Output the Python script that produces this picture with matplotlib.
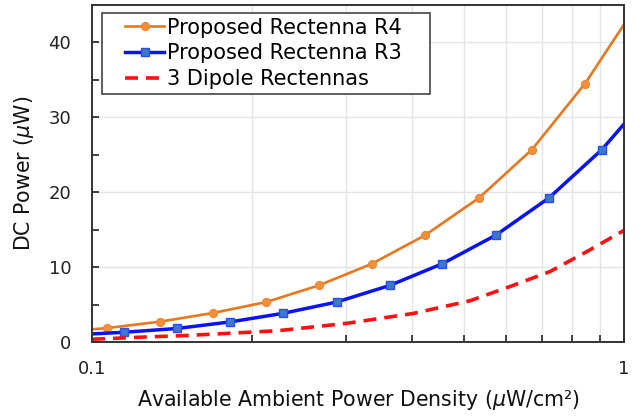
import numpy as np
import matplotlib
matplotlib.use("Agg")
import matplotlib.pyplot as plt
from matplotlib.ticker import FixedLocator, NullFormatter
from matplotlib.patches import Rectangle
from matplotlib.legend_handler import HandlerLine2D
from matplotlib.transforms import IdentityTransform

plt.rcParams['font.family'] = ['DejaVu Sans']
plt.rcParams['mathtext.fontset'] = 'dejavusans'

# Proposed Rectenna R4 (curve ends + marker points)
r4_x = [0.1, 0.1067, 0.1342, 0.1689, 0.2124, 0.2671, 0.3360, 0.4227, 0.5340, 0.6716, 0.8447, 1.0]
r4_y = [1.69, 1.85, 2.71, 3.87, 5.32, 7.56, 10.45, 14.25, 19.24, 25.7, 34.5, 42.4]

# Proposed Rectenna R3
r3_x = [0.1, 0.1148, 0.1445, 0.1817, 0.2286, 0.2884, 0.3633, 0.4556, 0.5745, 0.7228, 0.9091, 1.0]
r3_y = [1.07, 1.29, 1.80, 2.67, 3.82, 5.33, 7.56, 10.45, 14.27, 19.24, 25.7, 29.1]

# 3 Dipole Rectennas
dip_x = [0.1, 0.1231, 0.1515, 0.2237, 0.3015, 0.4013, 0.5134, 0.6105, 0.7260, 0.8631, 1.0]
dip_y = [0.36, 0.63, 0.87, 1.5, 2.49, 3.8, 5.5, 7.4, 9.4, 12.3, 14.9]

fig = plt.figure(figsize=(6.39, 4.17), dpi=100)
ax = fig.add_axes([0.144, 0.18, 0.8325, 0.808])

ax.plot(r4_x, r4_y, color='#E8771E', lw=1.9, marker='o', markersize=5.8,
        markerfacecolor='#F0913A', markeredgecolor='#EE8430', markeredgewidth=0.8,
        markevery=list(range(1, len(r4_x) - 1)), label='Proposed Rectenna R4')
ax.plot(r3_x, r3_y, color='#0A14F0', lw=2.5, marker='s', markersize=5.6,
        markerfacecolor='#3F78C4', markeredgecolor='#2850E8', markeredgewidth=1.0,
        markevery=list(range(1, len(r3_x) - 1)), label='Proposed Rectenna R3')
ax.plot(dip_x, dip_y, color='#FF1010', lw=2.6, ls=(0, (3.6, 2.2)), label='3 Dipole Rectennas')

ax.set_xscale('log')
ax.set_xlim(0.1, 1)
ax.set_ylim(0, 45)

ax.xaxis.set_major_locator(FixedLocator([0.1, 1]))
ax.set_xticklabels(['0.1', '1'])
ax.xaxis.set_minor_locator(FixedLocator([0.2, 0.3, 0.4, 0.5, 0.6, 0.7, 0.8, 0.9]))
ax.xaxis.set_minor_formatter(NullFormatter())
ax.yaxis.set_major_locator(FixedLocator([0, 10, 20, 30, 40]))
ax.yaxis.set_minor_locator(FixedLocator([5, 15, 25, 35]))

ax.grid(True, which='minor', axis='x', color='#E4E4E4', lw=1.0)
ax.grid(True, which='major', axis='y', color='#E4E4E4', lw=1.0)
ax.set_axisbelow(True)

ax.tick_params(which='both', direction='in', top=False, right=False,
               colors='#222222', labelsize=13, width=1.2, length=5)
ax.tick_params(axis='x', pad=13)
ax.tick_params(axis='y', pad=15)

for sp in ax.spines.values():
    sp.set_color('#333333')
    sp.set_linewidth(1.4)

ax.set_xlabel(r'Available Ambient Power Density ($\mu$W/cm²)', fontsize=14.8, color='#111111', labelpad=7)
ax.set_ylabel(r'DC Power ($\mu$W)', fontsize=14.8, color='#111111', labelpad=9)

# legend without frame, box drawn by hand with MATLAB-like wide side padding
leg = ax.legend(loc='upper left', bbox_to_anchor=(0.0188, 0.976), borderaxespad=0,
                fontsize=15, frameon=False, handlelength=2.75, handletextpad=0.15,
                labelspacing=0.27, borderpad=0.22,
                handler_map={plt.Line2D: HandlerLine2D(xpad=0.9)})
leg.set_zorder(6)
fig.canvas.draw()
bb = leg.get_window_extent()
rect = Rectangle((bb.x0, bb.y0), bb.width + 24, bb.height, transform=IdentityTransform(),
                 facecolor='white', edgecolor='#444444', lw=1.2, zorder=5.5)
ax.add_patch(rect)
rect.set_clip_on(False)

fig.savefig('out.png', dpi=100)
